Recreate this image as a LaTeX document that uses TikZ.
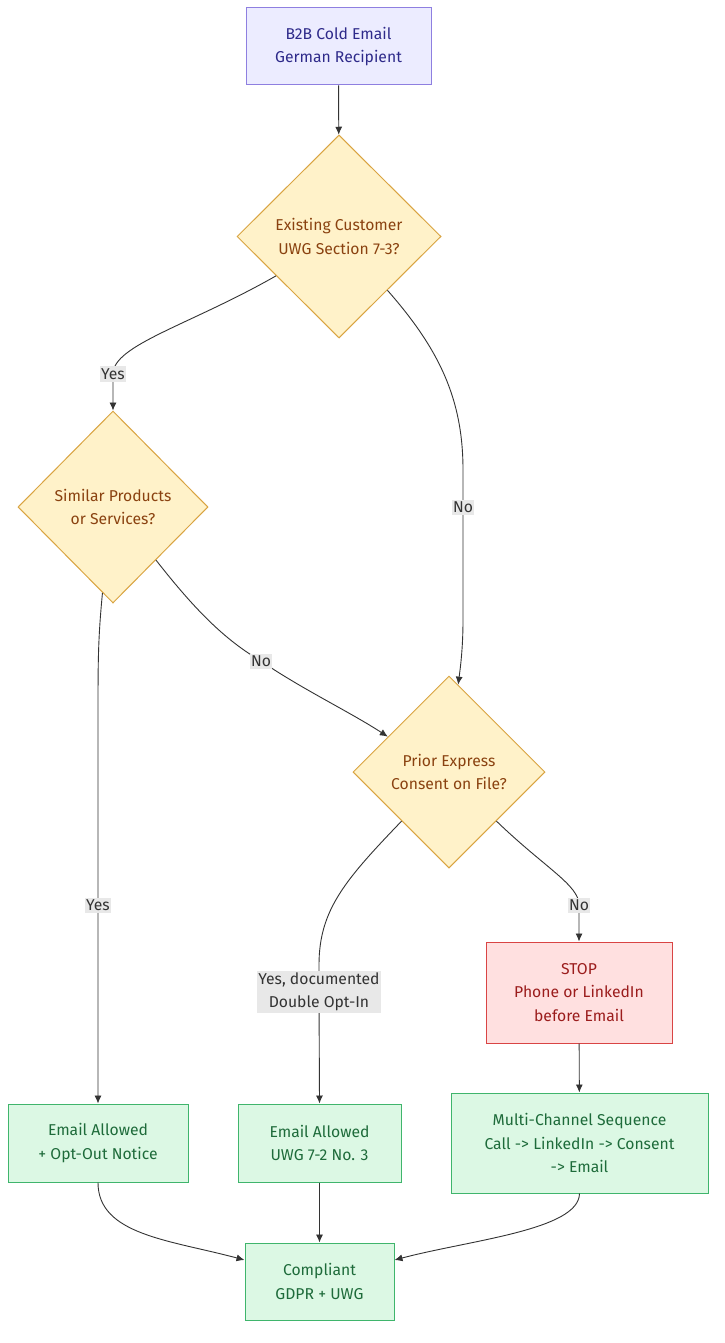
\documentclass[tikz,border=0pt]{standalone}
\usepackage{fontspec}
\setmainfont{Fira Sans}
\usetikzlibrary{shapes.geometric,arrows.meta}
\definecolor{edgec}{HTML}{333333}
\definecolor{startfill}{HTML}{ECECFF}
\definecolor{startdraw}{HTML}{8E7FE0}
\definecolor{starttext}{HTML}{2E2A8A}
\definecolor{decfill}{HTML}{FFF2C9}
\definecolor{decdraw}{HTML}{D9A441}
\definecolor{dectext}{HTML}{8A4210}
\definecolor{stopfill}{HTML}{FFE0E0}
\definecolor{stopdraw}{HTML}{D94444}
\definecolor{stoptext}{HTML}{9B1C1C}
\definecolor{okfill}{HTML}{DCF8E4}
\definecolor{okdraw}{HTML}{3FB56C}
\definecolor{oktext}{HTML}{1E6B3A}
\definecolor{lblfill}{HTML}{E8E8E8}
\tikzset{
  base/.style={font=\fontsize{15.7}{23.5}\selectfont, align=center, inner sep=0pt, line width=1pt},
  startbox/.style={base, rectangle, draw=startdraw, fill=startfill, text=starttext},
  decbox/.style={base, diamond, draw=decdraw, fill=decfill, text=dectext, aspect=1},
  stopbox/.style={base, rectangle, draw=stopdraw, fill=stopfill, text=stoptext},
  okbox/.style={base, rectangle, draw=okdraw, fill=okfill, text=oktext},
  lbl/.style={font=\fontsize{15.7}{23.5}\selectfont, align=center, fill=lblfill, text=edgec, inner xsep=1.5pt, inner ysep=2pt},
  conn/.style={draw=edgec, line width=0.9pt, -{Latex[length=8pt,width=7pt]}},
}
\begin{document}
\begin{tikzpicture}[x=1pt,y=-1pt]
\useasboundingbox[fill=white] (0,0) rectangle (724,1343);
\node[startbox, minimum width=185, minimum height=77] (start) at (338.5,46.5) {B2B Cold Email\\German Recipient};
\node[decbox, minimum width=204, minimum height=203] (d1) at (339,236.5) {Existing Customer\\UWG Section 7-3?};
\node[decbox, minimum width=190, minimum height=192] (d2) at (113,507) {Similar Products\\or Services?};
\node[decbox, minimum width=192, minimum height=192] (d3) at (449,772) {Prior Express\\Consent on File?};
\node[stopbox, minimum width=186, minimum height=101] (stop) at (579,992.5) {STOP\\Phone or LinkedIn\\before Email};
\node[okbox, minimum width=257, minimum height=100] (multi) at (579.5,1143) {Multi-Channel Sequence\\Call -> LinkedIn -> Consent\\-> Email};
\node[okbox, minimum width=180, minimum height=78] (ok1) at (98,1143) {Email Allowed\\+ Opt-Out Notice};
\node[okbox, minimum width=163, minimum height=78] (ok2) at (319.5,1143) {Email Allowed\\UWG 7-2 No. 3};
\node[okbox, minimum width=149, minimum height=77] (comp) at (319.5,1281.5) {Compliant\\GDPR + UWG};

\draw[conn] (start) -- (d1);
\draw[conn] (d1.212) .. controls (190,325) and (113,345) .. (113,374) node[lbl] {Yes} -- (d2.north);
\draw[conn] (d1.312) .. controls (440,350) and (463,400) .. (463,470) -- (463,507) node[lbl] {No} -- (463,620) .. controls (463,650) and (460,670) .. (d3.84);
\draw[conn] (d2.309) .. controls (195,610) and (225,640) .. (261,661) node[lbl] {No} .. controls (300,688) and (350,712) .. (d3.150);
\draw[conn] (d2.263) .. controls (98,640) and (98,660) .. (98,720) -- (98,905) node[lbl] {Yes} -- (ok1.north);
\draw[conn] (d3.226) .. controls (345,880) and (319,910) .. (319,965) -- (319,992) node[lbl] {Yes, documented\\Double Opt-In} -- (ok2.north);
\draw[conn] (d3.314) .. controls (545,868) and (579,885) .. (579,905) node[lbl] {No} -- (stop.north);
\draw[conn] (stop) -- (multi);
\draw[conn] (ok1.south) .. controls (98,1235) and (170,1240) .. (comp.164);
\draw[conn] (ok2) -- (comp);
\draw[conn] (multi.south) .. controls (579,1230) and (470,1240) .. (comp.16);
\end{tikzpicture}
\end{document}
